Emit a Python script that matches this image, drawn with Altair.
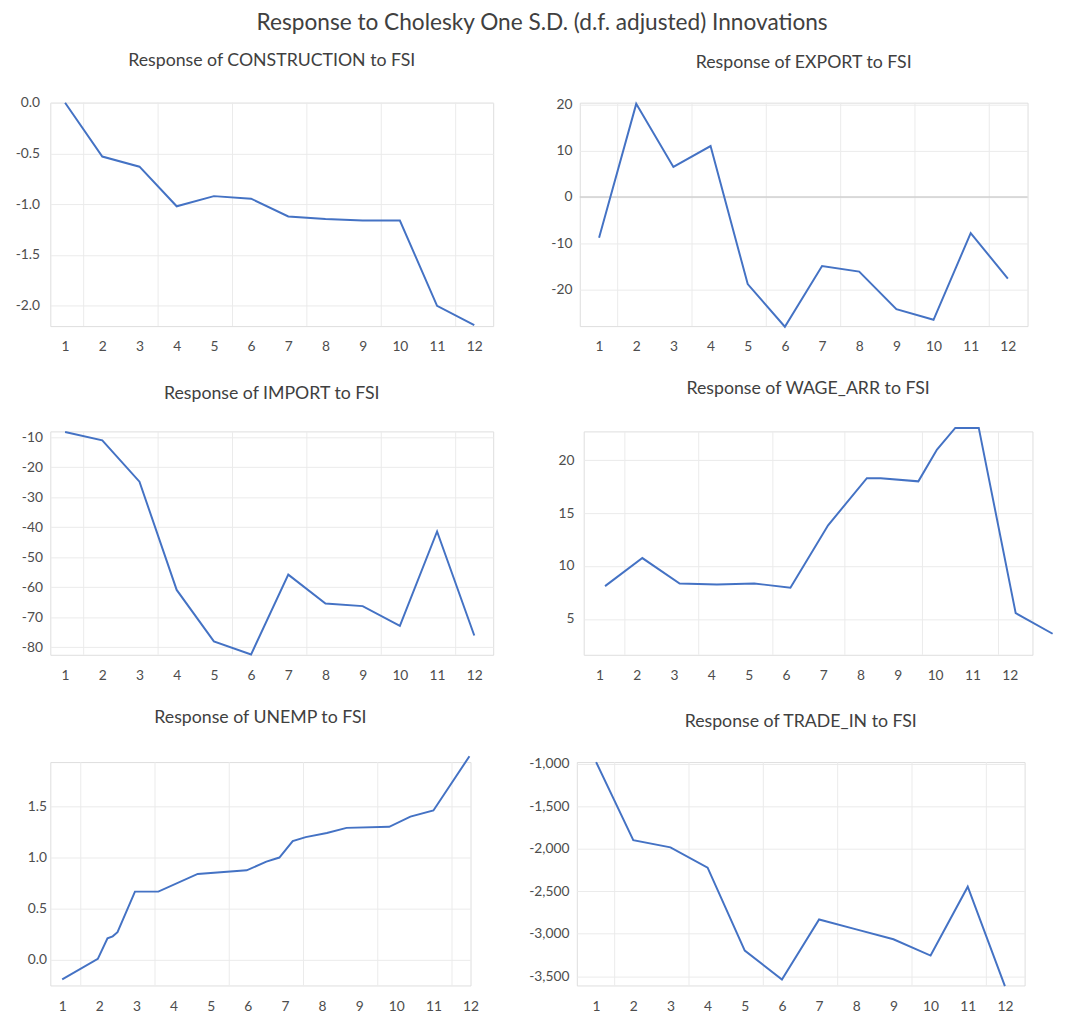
import altair as alt
import pandas as pd

# ---------------- data ----------------
steps = list(range(1, 13))

construction = [0.0, -0.53, -0.63, -1.02, -0.92, -0.945, -1.12, -1.145, -1.16, -1.16, -2.0, -2.19]
export = [-8.8, 20.1, 6.5, 11.0, -18.8, -28.0, -14.9, -16.1, -24.2, -26.5, -7.8, -17.6]
imports = [-8.25, -11.0, -24.8, -60.9, -78.05, -82.4, -55.8, -65.4, -66.3, -72.9, -41.4, -76.1]
trade_in = [-981, -1899, -1984, -2223, -3199, -3539, -2833, -2949, -3065, -3257, -2447, -3616]

wage_x = [1.15, 2.15, 3.15, 4.15, 5.15, 6.12, 7.13, 8.17, 8.54, 9.55, 10.05, 10.54, 11.17, 12.16, 13.15]
wage_y = [8.1, 10.75, 8.35, 8.25, 8.35, 7.95, 13.85, 18.3, 18.3, 18.0, 21.0, 23.05, 23.05, 5.55, 3.6]

unemp_x = [1.0, 1.96, 2.22, 2.36, 2.49, 2.96, 3.59, 4.65, 5.97, 6.5, 6.85, 7.21, 7.56, 8.13, 8.66,
           9.81, 10.38, 11.0, 11.97]
unemp_y = [-0.19, 0.01, 0.21, 0.23, 0.27, 0.667, 0.667, 0.84, 0.875, 0.96, 1.0, 1.16, 1.20, 1.24,
           1.29, 1.30, 1.40, 1.46, 1.99]

grid_default = [1.5, 3.5, 5.5, 7.5, 9.5, 11.5]
grid_wage = [1.68, 3.66, 5.65, 7.58, 9.66, 11.7]

MAIN_TITLE = "Response to Cholesky One S.D. (d.f. adjusted) Innovations"

# ---------------- style ----------------
FONT = "Lato"
BLUE = "#4472C4"
GRID = "#ebebeb"
ZERO = "#d0d0d0"
TXT = "#404040"
LBL = "#4d4d4d"
H = 227
MINUS_FIX = "replace(datum.label, '\u2212', '-')"


def panel(title, xs, ys, xdom, ydom, yticks, yfmt, width, grid_x, yext, ypad, zero_line=False):
    df = pd.DataFrame({"x": xs, "y": ys})
    xscale = alt.Scale(domain=xdom, nice=False, zero=False)
    yscale = alt.Scale(domain=ydom, nice=False, zero=False)

    vgrid = alt.Chart(pd.DataFrame({"x": grid_x})).mark_rule(
        color=GRID, strokeWidth=1
    ).encode(
        x=alt.X("x:Q", scale=xscale),
        y=alt.value(0),
        y2=alt.value(H),
    )

    line = alt.Chart(df).mark_line(color=BLUE, strokeWidth=2, clip=False).encode(
        x=alt.X(
            "x:Q", scale=xscale,
            axis=alt.Axis(values=steps, tickCount=30, format="d", title=None, grid=False,
                          ticks=False, domain=False, labelPadding=14, labelFontSize=14,
                          labelColor=LBL, labelFont=FONT, labelOverlap=False, labelFlush=False,
                          minExtent=30, maxExtent=30),
        ),
        y=alt.Y(
            "y:Q", scale=yscale,
            axis=alt.Axis(values=yticks, tickCount=30, format=yfmt, labelExpr=MINUS_FIX,
                          title=None, grid=True, gridColor=GRID, gridWidth=1, ticks=False,
                          domain=False, labelPadding=ypad, labelFontSize=14, labelColor=LBL,
                          labelFont=FONT, labelOverlap=False, labelFlush=False,
                          minExtent=yext, maxExtent=yext),
        ),
    )

    layers = [vgrid]
    if zero_line:
        zero = alt.Chart(pd.DataFrame({"y": [0]})).mark_rule(color=ZERO, strokeWidth=1.5).encode(
            y=alt.Y("y:Q", scale=yscale),
            x=alt.value(0),
            x2=alt.value(width),
        )
        layers.append(zero)
    layers.append(line)

    return alt.layer(*layers).properties(
        width=width,
        height=H,
        title=alt.TitleParams(title, fontSize=18, font=FONT, color=TXT, fontWeight="normal",
                              anchor="middle", offset=26, frame="group"),
    )


p1 = panel("Response of CONSTRUCTION to FSI", steps, construction, [0.603, 12.508], [-2.2, 0.0],
           [0.0, -0.5, -1.0, -1.5, -2.0], ".1f", 450, grid_default, 34, 11)
p2 = panel("Response of EXPORT to FSI", steps, export, [0.481, 12.53], [-27.86, 20.35],
           [20, 10, 0, -10, -20], "d", 455, grid_default, 52, 8, zero_line=True)
p3 = panel("Response of IMPORT to FSI", steps, imports, [0.603, 12.508], [-82.53, -8.03],
           [-10, -20, -30, -40, -50, -60, -70, -80], "d", 450, grid_default, 34, 8)
p4 = panel("Response of WAGE_ARR to FSI", wage_x, wage_y, [0.578, 12.61], [1.61, 22.72],
           [5, 10, 15, 20], "d", 456, grid_wage, 52, 10)
p5 = panel("Response of UNEMP to FSI", unemp_x, unemp_y, [0.68, 12.0], [-0.25, 1.933],
           [0.0, 0.5, 1.0, 1.5], ".1f", 427, grid_default, 37, 4)
p6 = panel("Response of TRADE_IN to FSI", steps, trade_in, [0.481, 12.53], [-3609, -981],
           [-1000, -1500, -2000, -2500, -3000, -3500], ",.0f", 455, grid_default, 52, 8)

row1 = alt.hconcat(p1, p2, spacing=34)
row2 = alt.hconcat(p3, p4, spacing=38)
row3 = alt.hconcat(p5, p6, spacing=46)

chart = alt.vconcat(row1, row2, row3, spacing=23).properties(
    title=alt.TitleParams(MAIN_TITLE, fontSize=23, font=FONT, color=TXT, fontWeight="normal",
                          anchor="middle", offset=17, dx=7),
    padding={"left": 5, "top": -4, "right": 5, "bottom": 5},
).configure_view(stroke=None).configure(background="white")

chart.save("out.html", embed_options={"renderer": "svg", "actions": False})
